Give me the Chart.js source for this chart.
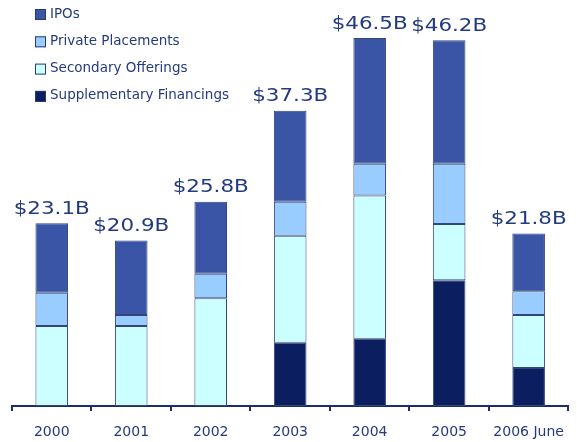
<!DOCTYPE html>
<html>
<head>
<meta charset="utf-8">
<script src="https://cdn.jsdelivr.net/npm/chart.js@4.4.1/dist/chart.umd.min.js"></script>
<style>
  html, body { margin: 0; padding: 0; background: #ffffff; }
  #wrap { position: relative; width: 577px; height: 442px; }
</style>
</head>
<body>
<div id="wrap"><canvas id="c" width="577" height="442"></canvas></div>
<script>
// ---- data ----
const categories = ["2000", "2001", "2002", "2003", "2004", "2005", "2006 June"];
const supplementaryFinancings = [0, 0, 0, 8.0, 8.5, 15.9, 4.8];
const secondaryOfferings      = [10.1, 10.1, 13.6, 13.5, 18.1, 7.1, 6.7];
const privatePlacements       = [4.2, 1.4, 3.1, 4.3, 4.0, 7.6, 3.0];
const ipos                    = [8.8, 9.4, 9.1, 11.5, 15.9, 15.6, 7.3];
const totalLabels = ["$23.1B", "$20.9B", "$25.8B", "$37.3B", "$46.5B", "$46.2B", "$21.8B"];

const BORDER = "#34457a";
const TEXT = "#243a80";

const totalsPlugin = {
  id: "totals",
  afterDatasetsDraw(chart) {
    const ctx = chart.ctx;
    const top = chart.getDatasetMeta(chart.data.datasets.length - 1);
    ctx.save();
    ctx.fillStyle = TEXT;
    ctx.font = "18px 'DejaVu Sans'";
    ctx.textAlign = "center";
    ctx.textBaseline = "middle";
    top.data.forEach((bar, i) => {
      ctx.save();
      ctx.translate(bar.x, bar.y - 14);
      ctx.scale(1.19, 1);
      ctx.fillText(totalLabels[i], 0, 0);
      ctx.restore();
    });
    ctx.restore();
  }
};

const legendPlugin = {
  id: "boxLegend",
  afterDraw(chart) {
    const ctx = chart.ctx;
    const ds = chart.data.datasets.slice().reverse();
    ctx.save();
    ctx.font = "13.5px 'DejaVu Sans'";
    ctx.textBaseline = "middle";
    ds.forEach((d, i) => {
      const y = 14 + i * 27.3;
      ctx.fillStyle = d.backgroundColor;
      ctx.fillRect(35, y - 5, 11, 11);
      ctx.strokeStyle = "#2a3a70";
      ctx.lineWidth = 1;
      ctx.strokeRect(35.5, y - 4.5, 10, 10);
      ctx.fillStyle = TEXT;
      ctx.fillText(d.label, 50, y);
    });
    ctx.restore();
  }
};

function ds(label, data, color) {
  return {
    label, data,
    backgroundColor: color,
    borderColor: BORDER,
    borderWidth: 1,
    borderSkipped: false,
    categoryPercentage: 1.0,
    barPercentage: 0.41
  };
}

new Chart(document.getElementById("c"), {
  type: "bar",
  data: {
    labels: categories,
    datasets: [
      ds("Supplementary Financings", supplementaryFinancings, "#0b1f60"),
      ds("Secondary Offerings", secondaryOfferings, "#ccffff"),
      ds("Private Placements", privatePlacements, "#99ccff"),
      ds("IPOs", ipos, "#3a55a5")
    ]
  },
  options: {
    responsive: false,
    animation: false,
    layout: { padding: { left: 12, right: 1, top: 0, bottom: 1 } },
    plugins: { legend: { display: false }, tooltip: { enabled: false } },
    scales: {
      x: {
        stacked: true,
        border: { display: true, color: "#1f2d66", width: 2 },
        grid: { display: true, drawOnChartArea: false, drawTicks: true, tickLength: 5, color: "#1f2d66", lineWidth: 2 },
        ticks: { color: TEXT, font: { family: "DejaVu Sans", size: 14 }, padding: 13, maxRotation: 0 },
        afterFit(scale) { scale.height = 35; }
      },
      y: {
        stacked: true,
        display: false,
        min: 0,
        max: 51.3
      }
    }
  },
  plugins: [totalsPlugin, legendPlugin]
});
</script>
</body>
</html>
